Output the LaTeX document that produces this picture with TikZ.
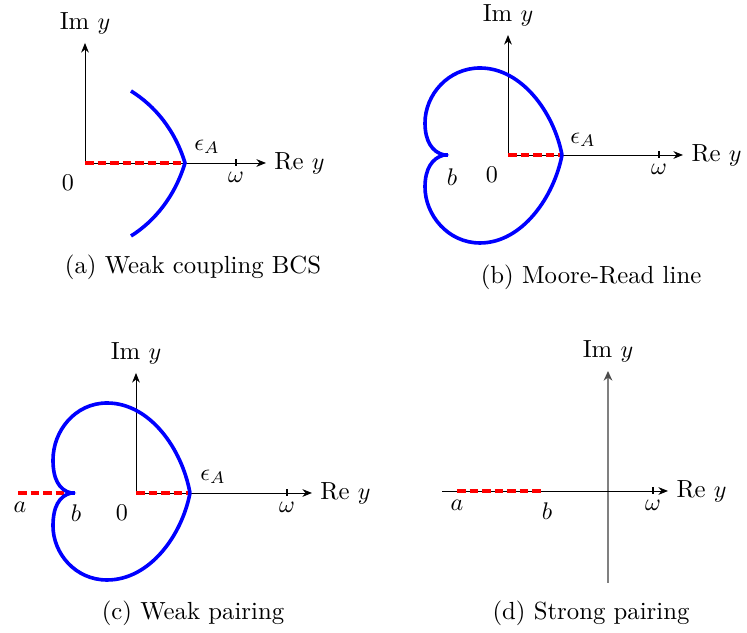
\documentclass[tikz,border=0pt]{standalone}
\usetikzlibrary{arrows.meta}

\begin{document}
\begin{tikzpicture}[x=.416pt,y=.416pt,
  every node/.style={font=\fontsize{10.3}{12.5}\selectfont},
  axis/.style={draw=black,line width=.4pt,-{Stealth[length=4pt,width=3.2pt]}},
  imaxis/.style={draw=gray,line width=.9pt,-{Stealth[length=4pt,width=3.6pt,black!70]}},
  cut/.style={draw=red,line width=1.5pt,dash pattern=on 3.6pt off 1.6pt},
  contour/.style={draw=blue,line width=1.5pt,line join=miter},
  tick/.style={draw=black,line width=.7pt}
]
\useasboundingbox (0,0) rectangle (747,633);

% (a) weak coupling BCS
\begin{scope}[shift={(85,470)}]
\coordinate (a0) at (0,0);
\coordinate (aim) at (0,120);
\coordinate (are) at (181,0);
\coordinate (aeps) at (100,0);
\coordinate (aom) at (151,0);
\draw[axis] (a0) -- (aim);
\draw[axis] (a0) -- (are);
\draw[cut] (a0) -- (aeps);
\draw[contour] (46,72) .. controls (70,57) and (90,33) .. (aeps)
  .. controls (90,-33) and (70,-58) .. (46,-73);
\draw[tick] (151,3.5) -- (151,-3.5);
\node[above] (aimlbl) at (aim) {Im $y$};
\node[right] (arelbl) at (are) {Re $y$};
\node (azero) at (-17,-20) {$0$};
\node (aepslbl) at (122,16) {$\epsilon_A$};
\node[below,inner sep=2pt] (aomlbl) at (151,-3.5) {$\omega$};
\node (acap) at (108,-104) {(a) Weak coupling BCS};
\end{scope}

% (b) Moore-Read line
\begin{scope}[shift={(508,478)}]
\coordinate (b0) at (0,0);
\coordinate (bim) at (0,120);
\coordinate (bre) at (175,0);
\coordinate (beps) at (54,0);
\coordinate (bom) at (151,0);
\draw[axis] (b0) -- (bim);
\draw[axis] (b0) -- (bre);
\draw[cut] (b0) -- (beps);
\draw[contour] (beps) .. controls (46,42) and (14,87) .. (-28,87)
  .. controls (-60,87) and (-83,60) .. (-83,32)
  .. controls (-83,14) and (-76,3) .. (-64,0)
  .. controls (-76,-3) and (-83,-14) .. (-83,-32)
  .. controls (-83,-60) and (-60,-88) .. (-28,-88)
  .. controls (14,-88) and (46,-42) .. (beps);
\draw[contour] (-64,0) -- (-60,0);
\draw[tick] (151,3.5) -- (151,-3.5);
\node[above] (bimlbl) at (bim) {Im $y$};
\node[right] (brelbl) at (bre) {Re $y$};
\node (bblbl) at (-56,-22) {$b$};
\node (bzero) at (-16,-20) {$0$};
\node (bepslbl) at (75,15) {$\epsilon_A$};
\node[below,inner sep=2pt] (bomlbl) at (151,-3.5) {$\omega$};
\node (bcap) at (83,-122) {(b) Moore-Read line};
\end{scope}

% (c) weak pairing
\begin{scope}[shift={(136,140)}]
\coordinate (c0) at (0,0);
\coordinate (cim) at (0,120);
\coordinate (cre) at (176,0);
\coordinate (ceps) at (54,0);
\coordinate (ccuta) at (-118,0);
\coordinate (ccutb) at (-63,0);
\coordinate (com) at (151,0);
\draw[axis] (c0) -- (cim);
\draw[axis] (c0) -- (cre);
\draw[cut] (c0) -- (ceps);
\draw[cut] (ccuta) -- (ccutb);
\draw[contour] (ceps) .. controls (46,44) and (14,90) .. (-29,90)
  .. controls (-61,90) and (-83,62) .. (-83,33)
  .. controls (-83,14) and (-77,3) .. (-65,0)
  .. controls (-77,-3) and (-83,-14) .. (-83,-33)
  .. controls (-83,-60) and (-61,-87) .. (-29,-87)
  .. controls (14,-87) and (46,-42) .. (ceps);
\draw[contour] (-65,0) -- (-61,0);
\draw[tick] (151,3.5) -- (151,-3.5);
\node[above] (cimlbl) at (cim) {Im $y$};
\node[right] (crelbl) at (cre) {Re $y$};
\node (calbl) at (-116,-14) {$a$};
\node (cblbl) at (-60,-20) {$b$};
\node (czero) at (-14,-20) {$0$};
\node (cepslbl) at (77,16) {$\epsilon_A$};
\node[below,inner sep=2pt] (comlbl) at (151,-3.5) {$\omega$};
\node (ccap) at (57,-120) {(c) Weak pairing};
\end{scope}

% (d) strong pairing
\begin{scope}[shift={(608,142)}]
\coordinate (d0) at (0,0);
\coordinate (dim) at (0,120);
\coordinate (dbot) at (0,-92);
\coordinate (dleft) at (-166,0);
\coordinate (dre) at (60,0);
\coordinate (dcuta) at (-151,0);
\coordinate (dcutb) at (-64,0);
\coordinate (dom) at (45,0);
\draw[imaxis] (dbot) -- (dim);
\draw[axis] (dleft) -- (dre);
\draw[cut] (dcuta) -- (dcutb);
\draw[tick] (45,3.5) -- (45,-3.5);
\node[above] (dimlbl) at (dim) {Im $y$};
\node[right] (drelbl) at (dre) {Re $y$};
\node (dalbl) at (-151,-14) {$a$};
\node (dblbl) at (-61,-20) {$b$};
\node[below,inner sep=2pt] (domlbl) at (45,-3.5) {$\omega$};
\node (dcap) at (-17,-122) {(d) Strong pairing};
\end{scope}
\end{tikzpicture}
\end{document}
